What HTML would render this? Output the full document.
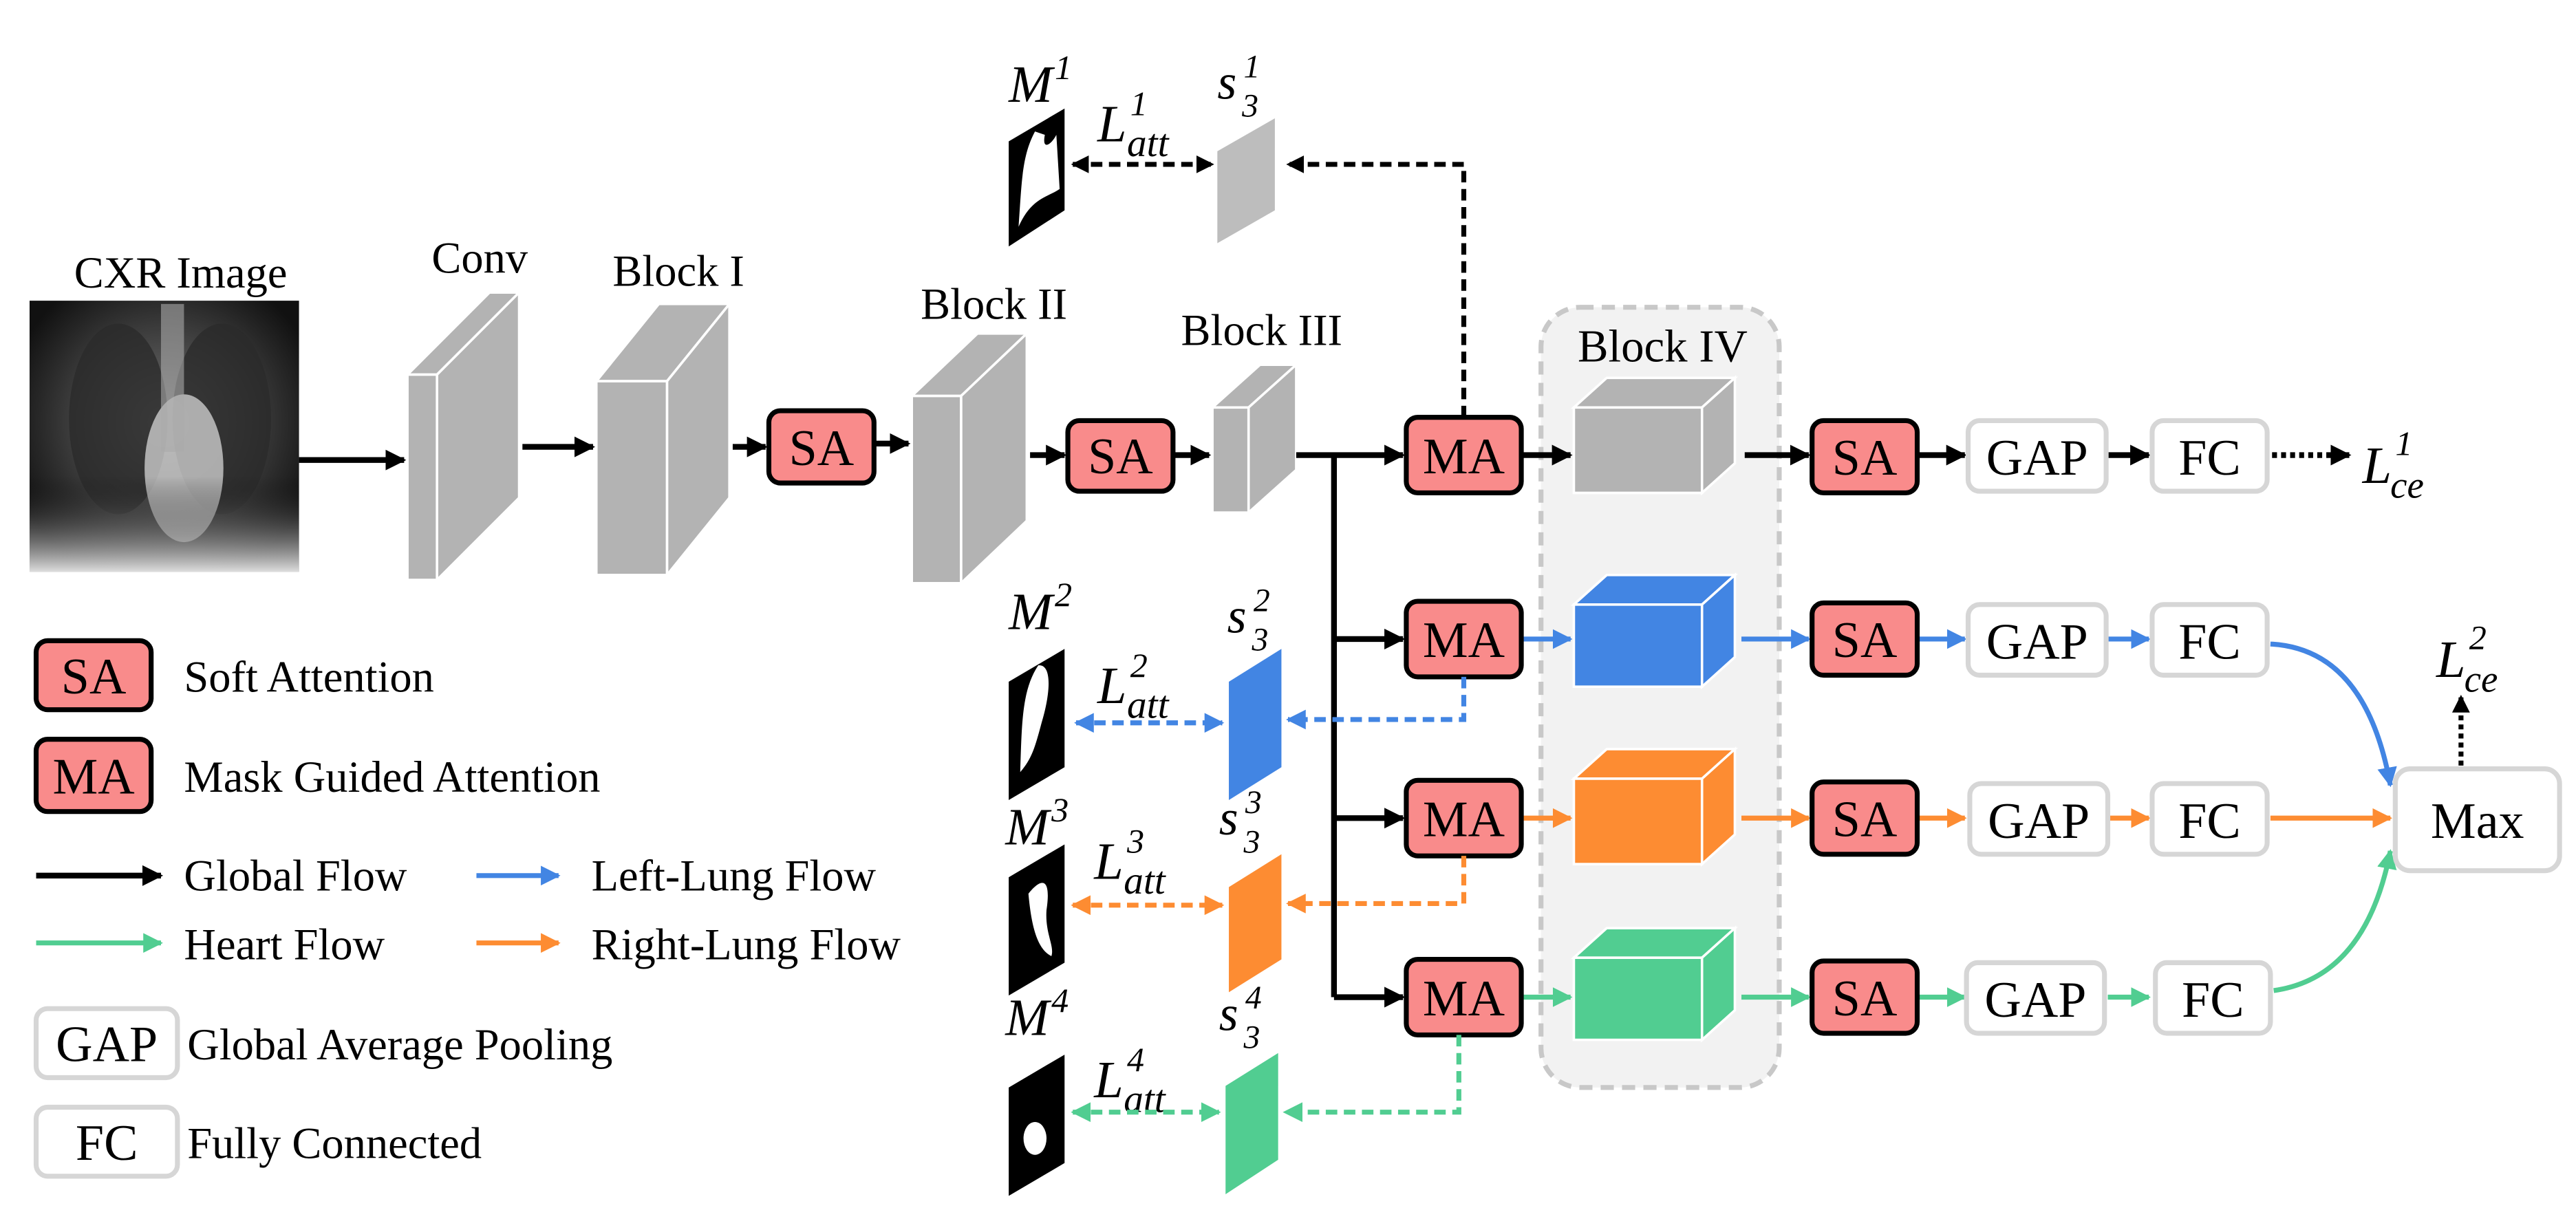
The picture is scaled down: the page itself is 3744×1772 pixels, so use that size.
<!DOCTYPE html>
<html><head><meta charset="utf-8"><style>
html,body{margin:0;padding:0;background:#fff}
svg{display:block}
svg text{font-family:"Liberation Serif","Times New Roman","DejaVu Serif",serif}
</style></head><body>
<svg width="3744" height="1772" viewBox="0 0 1568 742" xmlns="http://www.w3.org/2000/svg">
<defs>
<marker id="ak" viewBox="0 0 10 10" refX="9" refY="5" markerWidth="3.6" markerHeight="3.6" orient="auto-start-reverse"><path d="M0,0L10,5L0,10z" fill="#000"/></marker>
<marker id="ab" viewBox="0 0 10 10" refX="9" refY="5" markerWidth="4" markerHeight="4" orient="auto-start-reverse"><path d="M0,0L10,5L0,10z" fill="#4285e3"/></marker>
<marker id="ao" viewBox="0 0 10 10" refX="9" refY="5" markerWidth="4" markerHeight="4" orient="auto-start-reverse"><path d="M0,0L10,5L0,10z" fill="#fd8c32"/></marker>
<marker id="ag" viewBox="0 0 10 10" refX="9" refY="5" markerWidth="4" markerHeight="4" orient="auto-start-reverse"><path d="M0,0L10,5L0,10z" fill="#51cd91"/></marker>
<radialGradient id="lung" cx="50%" cy="45%" r="60%"><stop offset="0" stop-color="#777"/><stop offset="0.6" stop-color="#3a3a3a"/><stop offset="1" stop-color="#111"/></radialGradient>
<linearGradient id="abd" x1="0" y1="0" x2="0" y2="1"><stop offset="0" stop-color="#000" stop-opacity="0"/><stop offset="1" stop-color="#ddd"/></linearGradient>
</defs>

<rect x="938" y="187" width="145" height="475" rx="24" fill="#f2f2f2" stroke="#c8c8c8" stroke-width="3" stroke-dasharray="8,5"/>
<text x="1012" y="220" font-size="28" text-anchor="middle">Block IV</text>

<rect x="18" y="183" width="164" height="165" fill="url(#lung)"/>
<ellipse cx="72" cy="255" rx="30" ry="58" fill="#2a2a2a" opacity="0.8"/>
<ellipse cx="135" cy="255" rx="30" ry="58" fill="#2a2a2a" opacity="0.8"/>
<ellipse cx="112" cy="285" rx="24" ry="45" fill="#ccc" opacity="0.8"/>
<rect x="98" y="185" width="14" height="90" fill="#aaa" opacity="0.6"/>
<rect x="18" y="290" width="164" height="58" fill="url(#abd)"/>
<text x="110" y="175" font-size="27" text-anchor="middle">CXR Image</text>

<g fill="#b3b3b3" stroke="#fff" stroke-width="1.5">
<polygon points="248,228 298,178 316,178 266,228"/><polygon points="266,228 316,178 316,303 266,353"/><rect x="248" y="228" width="18" height="125"/>
<polygon points="363,232 401,185 444,185 406,232"/><polygon points="406,232 444,185 444,303 406,350"/><rect x="363" y="232" width="43" height="118"/>
<polygon points="555,241 595,203 625,203 585,241"/><polygon points="585,241 625,203 625,317 585,355"/><rect x="555" y="241" width="30" height="114"/>
<polygon points="738,248 767,222 789,222 760,248"/><polygon points="760,248 789,222 789,286 760,312"/><rect x="738" y="248" width="22" height="64"/>
</g>
<g font-size="27" text-anchor="middle">
<text x="292" y="166">Conv</text>
<text x="413" y="174">Block I</text>
<text x="605" y="194">Block II</text>
<text x="768" y="210">Block III</text>
</g>

<g stroke="#fff" stroke-width="1.5">
<g fill="#b3b3b3"><polygon points="958,248 978,230 1056,230 1036,248"/><polygon points="1036,248 1056,230 1056,282 1036,300"/><rect x="958" y="248" width="78" height="52"/></g>
<g fill="#4285e3"><polygon points="958,368 978,350 1056,350 1036,368"/><polygon points="1036,368 1056,350 1056,400 1036,418"/><rect x="958" y="368" width="78" height="50"/></g>
<g fill="#fd8c32"><polygon points="958,474 978,456 1056,456 1036,474"/><polygon points="1036,474 1056,456 1056,508 1036,526"/><rect x="958" y="474" width="78" height="52"/></g>
<g fill="#51cd91"><polygon points="958,583 978,565 1056,565 1036,583"/><polygon points="1036,583 1056,565 1056,615 1036,633"/><rect x="958" y="583" width="78" height="50"/></g>
</g>

<g stroke="#000" stroke-width="3.5" fill="none" marker-end="url(#ak)">
<line x1="182" y1="280" x2="246" y2="280"/>
<line x1="318" y1="272" x2="361" y2="272"/>
<line x1="446" y1="272" x2="466" y2="272"/>
<line x1="533" y1="270" x2="553" y2="270"/>
<line x1="627" y1="277" x2="648" y2="277"/>
<line x1="715" y1="277" x2="736" y2="277"/>
<line x1="789" y1="277" x2="854" y2="277"/>
<line x1="927" y1="277" x2="956" y2="277"/>
<line x1="1062" y1="277" x2="1101" y2="277"/>
<line x1="1168" y1="277" x2="1196" y2="277"/>
<line x1="1283" y1="277" x2="1308" y2="277"/>
<line x1="812" y1="389" x2="854" y2="389"/>
<line x1="812" y1="498" x2="854" y2="498"/>
<line x1="812" y1="607" x2="854" y2="607"/>
</g>
<line x1="812" y1="277" x2="812" y2="607" stroke="#000" stroke-width="3.5"/>
<line x1="1383" y1="277" x2="1430" y2="277" stroke="#000" stroke-width="3.5" stroke-dasharray="3,2.5" marker-end="url(#ak)"/>

<g stroke-width="3" fill="none">
<g stroke="#4285e3" marker-end="url(#ab)"><line x1="927" y1="389" x2="956" y2="389"/><line x1="1060" y1="389" x2="1101" y2="389"/><line x1="1168" y1="389" x2="1196" y2="389"/><line x1="1283" y1="389" x2="1308" y2="389"/><path d="M1382,392 Q1440,395 1455,478"/></g>
<g stroke="#fd8c32" marker-end="url(#ao)"><line x1="927" y1="498" x2="956" y2="498"/><line x1="1060" y1="498" x2="1101" y2="498"/><line x1="1168" y1="498" x2="1196" y2="498"/><line x1="1283" y1="498" x2="1308" y2="498"/><line x1="1382" y1="498" x2="1455" y2="498"/></g>
<g stroke="#51cd91" marker-end="url(#ag)"><line x1="927" y1="607" x2="956" y2="607"/><line x1="1060" y1="607" x2="1101" y2="607"/><line x1="1168" y1="607" x2="1196" y2="607"/><line x1="1283" y1="607" x2="1308" y2="607"/><path d="M1384,603 Q1440,595 1455,518"/></g>
</g>

<g fill="#f98b8b" stroke="#000" stroke-width="3">
<rect x="468" y="250" width="64" height="44" rx="7"/>
<rect x="650" y="256" width="64" height="43" rx="7"/>
<rect x="856" y="254" width="70" height="46" rx="7"/>
<rect x="856" y="366" width="70" height="46" rx="7"/>
<rect x="856" y="475" width="70" height="46" rx="7"/>
<rect x="856" y="584" width="70" height="46" rx="7"/>
<rect x="1103" y="256" width="64" height="44" rx="7"/>
<rect x="1103" y="367" width="64" height="44" rx="7"/>
<rect x="1103" y="476" width="64" height="44" rx="7"/>
<rect x="1103" y="585" width="64" height="44" rx="7"/>
<rect x="22" y="390" width="70" height="42" rx="7"/>
<rect x="22" y="450" width="70" height="44" rx="7"/>
</g>
<g font-size="31" text-anchor="middle">
<text x="500" y="283">SA</text><text x="682" y="288">SA</text>
<text x="891" y="288">MA</text><text x="891" y="400">MA</text><text x="891" y="509">MA</text><text x="891" y="618">MA</text>
<text x="1135" y="289">SA</text><text x="1135" y="400">SA</text><text x="1135" y="509">SA</text><text x="1135" y="618">SA</text>
<text x="57" y="422">SA</text><text x="57" y="483">MA</text>
</g>

<g fill="#fff" stroke="#d6d6d6" stroke-width="3">
<rect x="1198" y="256" width="84" height="43" rx="7"/><rect x="1310" y="256" width="70" height="43" rx="7"/>
<rect x="1198" y="368" width="84" height="43" rx="7"/><rect x="1310" y="368" width="70" height="43" rx="7"/>
<rect x="1199" y="477" width="84" height="43" rx="7"/><rect x="1310" y="477" width="70" height="43" rx="7"/>
<rect x="1197" y="586" width="84" height="43" rx="7"/><rect x="1312" y="586" width="70" height="43" rx="7"/>
<rect x="1458" y="468" width="100" height="62" rx="9"/>
<rect x="22" y="614" width="86" height="42" rx="7"/><rect x="22" y="674" width="86" height="42" rx="7"/>
</g>
<g font-size="31" text-anchor="middle">
<text x="1240" y="289">GAP</text><text x="1345" y="289">FC</text>
<text x="1240" y="401">GAP</text><text x="1345" y="401">FC</text>
<text x="1241" y="510">GAP</text><text x="1345" y="510">FC</text>
<text x="1239" y="619">GAP</text><text x="1347" y="619">FC</text>
<text x="1508" y="510">Max</text>
<text x="65" y="646">GAP</text><text x="65" y="706">FC</text>
</g>
<line x1="1498" y1="466" x2="1498" y2="424" stroke="#000" stroke-width="3" stroke-dasharray="3,2.5" marker-end="url(#ak)"/>

<polygon points="614,86 648,66 648,128 614,150" fill="#000"/>
<path d="M620,138 C622,110 622,95 630,80 L636,82 C634,92 640,88 643,82 L645,115 C638,120 628,120 620,138 Z" fill="#fff"/>
<polygon points="741,92 776,72 776,128 741,148" fill="#bdbdbd"/>
<polygon points="614,415 648,395 648,467 614,487" fill="#000"/>
<path d="M621,470 C622,440 622,420 632,405 C640,404 640,420 634,440 C630,455 628,462 621,470Z" fill="#fff"/>
<polygon points="748,415 780,395 780,467 748,487" fill="#4285e3"/>
<polygon points="614,534 648,514 648,586 614,606" fill="#000"/>
<path d="M626,544 C634,534 640,534 637,554 C636,568 642,576 640,582 C632,578 628,566 626,544Z" fill="#fff"/>
<polygon points="748,540 780,520 780,584 748,604" fill="#fd8c32"/>
<polygon points="614,662 648,642 648,708 614,728" fill="#000"/>
<ellipse cx="630" cy="693" rx="7" ry="10" fill="#fff"/>
<polygon points="746,661 778,641 778,706 746,727" fill="#51cd91"/>

<g font-style="italic">
<text x="1438" y="294" font-size="32">L</text><text x="1458" y="277" font-size="21">1</text><text x="1455" y="303" font-size="23">ce</text>
<text x="1483" y="412" font-size="32">L</text><text x="1503" y="395" font-size="21">2</text><text x="1500" y="421" font-size="23">ce</text>

<text x="614" y="62" font-size="32">M</text><text x="642" y="48" font-size="21">1</text>
<text x="741" y="60" font-size="30">s</text><text x="756" y="71" font-size="20">3</text><text x="757" y="47" font-size="20">1</text>
<text x="668" y="86" font-size="32">L</text><text x="688" y="70" font-size="21">1</text><text x="686" y="95" font-size="24">att</text>

<text x="614" y="383" font-size="32">M</text><text x="642" y="369" font-size="21">2</text>
<text x="747" y="385" font-size="30">s</text><text x="762" y="396" font-size="20">3</text><text x="763" y="372" font-size="20">2</text>
<text x="668" y="428" font-size="32">L</text><text x="688" y="412" font-size="21">2</text><text x="686" y="437" font-size="24">att</text>

<text x="612" y="514" font-size="32">M</text><text x="640" y="500" font-size="21">3</text>
<text x="742" y="508" font-size="30">s</text><text x="757" y="519" font-size="20">3</text><text x="758" y="495" font-size="20">3</text>
<text x="666" y="535" font-size="32">L</text><text x="686" y="519" font-size="21">3</text><text x="684" y="544" font-size="24">att</text>

<text x="612" y="630" font-size="32">M</text><text x="640" y="616" font-size="21">4</text>
<text x="742" y="627" font-size="30">s</text><text x="757" y="638" font-size="20">3</text><text x="758" y="614" font-size="20">4</text>
<text x="666" y="668" font-size="32">L</text><text x="686" y="652" font-size="21">4</text><text x="684" y="677" font-size="24">att</text>
</g>

<g stroke-width="3" fill="none" stroke-dasharray="7,4">
<path d="M891,254 V100 H784" stroke="#000" marker-end="url(#ak)"/>
<line x1="653" y1="100" x2="738" y2="100" stroke="#000" marker-start="url(#ak)" marker-end="url(#ak)"/>
<path d="M891,412 V438 H784" stroke="#4285e3" marker-end="url(#ab)"/>
<line x1="655" y1="440" x2="744" y2="440" stroke="#4285e3" marker-start="url(#ab)" marker-end="url(#ab)"/>
<path d="M891,521 V550 H784" stroke="#fd8c32" marker-end="url(#ao)"/>
<line x1="653" y1="551" x2="744" y2="551" stroke="#fd8c32" marker-start="url(#ao)" marker-end="url(#ao)"/>
<path d="M888,630 V677 H782" stroke="#51cd91" marker-end="url(#ag)"/>
<line x1="653" y1="677" x2="742" y2="677" stroke="#51cd91" marker-start="url(#ag)" marker-end="url(#ag)"/>
</g>

<g font-size="27">
<text x="112" y="421">Soft Attention</text>
<text x="112" y="482">Mask Guided Attention</text>
<text x="112" y="542">Global Flow</text>
<text x="360" y="542">Left-Lung Flow</text>
<text x="112" y="584">Heart Flow</text>
<text x="360" y="584">Right-Lung Flow</text>
<text x="114" y="645">Global Average Pooling</text>
<text x="114" y="705">Fully Connected</text>
</g>
<line x1="22" y1="533" x2="98" y2="533" stroke="#000" stroke-width="3.5" marker-end="url(#ak)"/>
<line x1="290" y1="533" x2="340" y2="533" stroke="#4285e3" stroke-width="3" marker-end="url(#ab)"/>
<line x1="22" y1="574" x2="98" y2="574" stroke="#51cd91" stroke-width="3" marker-end="url(#ag)"/>
<line x1="290" y1="574" x2="340" y2="574" stroke="#fd8c32" stroke-width="3" marker-end="url(#ao)"/>
</svg>
</body></html>
